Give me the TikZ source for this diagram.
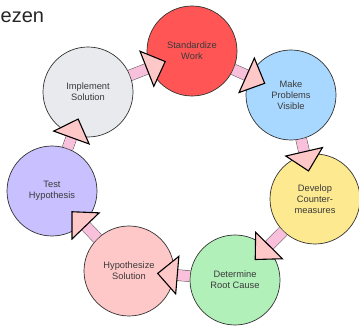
\documentclass[tikz,border=0pt]{standalone}
\usepackage{fontspec}
\setmainfont{Liberation Sans}
\usetikzlibrary{arrows.meta,calc}

\definecolor{ringline}{HTML}{333333}
\definecolor{labeltext}{HTML}{3A3A3A}
\definecolor{shaftpink}{HTML}{F8C0DA}
\definecolor{shaftedge}{HTML}{555555}
\definecolor{headpink}{HTML}{FFC8C8}
\definecolor{cRed}{HTML}{FF5555}
\definecolor{cBlue}{HTML}{A8D8FF}
\definecolor{cYellow}{HTML}{FDE98F}
\definecolor{cGreen}{HTML}{B2F0BA}
\definecolor{cPink}{HTML}{FFC8C8}
\definecolor{cLilac}{HTML}{C9C0FF}
\definecolor{cGrey}{HTML}{E8EAED}

\tikzset{
  stage/.style={circle, draw=ringline, line width=0.7pt, minimum size=90pt,
    inner sep=0pt, align=center, text=labeltext,
    font=\fontsize{9.3}{11}\selectfont},
  shaft/.style={draw=shaftedge, line width=0.5pt, double=shaftpink,
    double distance=10.5pt},
  headtip/.style={draw=shaftpink, line width=1.1pt,
    -{Triangle[length=21pt, width=40pt, fill=headpink, color=black]}},
}

\begin{document}
\begin{tikzpicture}[x=1pt, y=-1pt]
  \useasboundingbox (0,0) rectangle (359,331);

  \node[anchor=base west, font=\fontsize{20}{24}\selectfont, text=black!85,
        inner sep=0pt] (title) at (0.5,23) {ezen};

  \node[stage, fill=cRed]    (std)  at (192,51)  {Standardize\\Work};
  \node[stage, fill=cBlue]   (vis)  at (291,95)  {Make\\Problems\\Visible};
  \node[stage, fill=cYellow] (cm)   at (315,199) {Develop\\Counter-\\measures};
  \node[stage, fill=cGreen]  (root) at (235,280) {Determine\\Root Cause};
  \node[stage, fill=cPink]   (hyp)  at (129,271) {Hypothesize\\Solution};
  \node[stage, fill=cLilac]  (test) at (52,191)  {Test\\Hypothesis};
  \node[stage, fill=cGrey]   (impl) at (88,92)   {Implement\\Solution};

  % each step feeds the next one around the cycle
  \foreach \a/\b in {impl/std, std/vis, vis/cm, cm/root, root/hyp, hyp/test, test/impl} {
    \draw[shaft] (\a) -- ($(\b)!42pt!(\a)$);
    \draw[headtip] ($(\b)!52pt!(\a)$) -- ($(\b)!28pt!(\a)$);
  }
\end{tikzpicture}
\end{document}
